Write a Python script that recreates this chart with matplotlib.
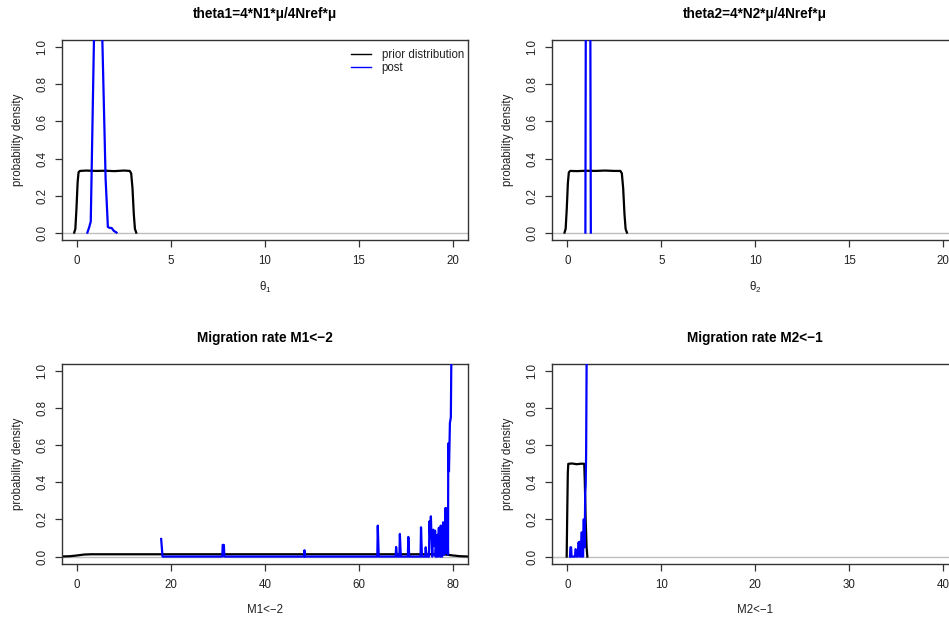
import matplotlib
matplotlib.use("Agg")
import matplotlib.pyplot as plt
from matplotlib.lines import Line2D

plt.rcParams['font.family'] = ['Liberation Sans', 'DejaVu Sans']
plt.rcParams['mathtext.fontset'] = 'custom'
plt.rcParams['mathtext.rm'] = 'Liberation Sans'
plt.rcParams['mathtext.it'] = 'Liberation Sans'
plt.rcParams['mathtext.bf'] = 'Liberation Sans:bold'

# ---- theta1: prior and posterior densities ----
theta1_prior_x = [-0.15, -0.09, -0.03, 0.03, 0.08, 0.15, 0.5, 1.0, 1.5, 2.0, 2.5, 2.8, 2.88, 2.95, 3.02, 3.08, 3.15]
theta1_prior_y = [0.0, 0.02, 0.13, 0.27, 0.325, 0.333, 0.335, 0.333, 0.334, 0.332, 0.335, 0.333, 0.32, 0.24, 0.1, 0.02, 0.0]
theta1_post_x = [0.55, 0.65, 0.73, 0.98, 1.15, 1.31, 1.52, 1.60, 1.64, 1.75, 1.84, 1.95, 2.1]
theta1_post_y = [0.0, 0.03, 0.06, 1.5, 2.1, 1.2, 0.29, 0.12, 0.03, 0.025, 0.025, 0.01, 0.0]

# ---- theta2: prior and posterior densities ----
theta2_prior_x = [-0.15, -0.09, -0.03, 0.03, 0.08, 0.15, 0.5, 1.0, 1.5, 2.0, 2.5, 2.82, 2.9, 2.97, 3.04, 3.1, 3.17]
theta2_prior_y = [0.0, 0.02, 0.13, 0.27, 0.325, 0.333, 0.332, 0.334, 0.333, 0.335, 0.333, 0.333, 0.32, 0.24, 0.1, 0.02, 0.0]
theta2_post_x = [0.96, 1.0, 1.1, 1.2, 1.25]
theta2_post_y = [0.0, 2.1, 4.0, 2.1, 0.0]

# ---- migration rate M1<-2 ----
m12_prior_x = [-3.2, -1.5, 0.0, 1.5, 3.0, 20.0, 40.0, 60.0, 77.0, 78.5, 80.0, 81.5, 83.2]
m12_prior_y = [0.0005, 0.002, 0.006, 0.011, 0.0125, 0.0125, 0.0125, 0.0125, 0.0125, 0.011, 0.006, 0.002, 0.0005]
m12_post_x = [17.9, 18.2, 30.9, 31.0, 31.25, 31.35, 48.3, 48.4, 48.5, 63.9, 64.0, 64.2,
              67.8, 67.9, 68.1, 68.6, 68.7, 68.9, 70.4, 70.5, 70.7, 73.1, 73.2, 73.4,
              74.1, 74.2, 74.4, 74.9, 75.0, 75.15, 75.3, 75.5, 75.6, 75.8, 76.0, 76.2,
              76.3, 76.4, 76.55, 76.7, 76.85, 77.0, 77.1, 77.25, 77.4, 77.55, 77.7, 77.9,
              78.1, 78.3, 78.4, 78.6, 78.8, 78.95, 79.0, 79.15, 79.35, 79.55, 79.9]
m12_post_y = [0.095, 0.0, 0.0, 0.063, 0.063, 0.0, 0.0, 0.034, 0.0, 0.0, 0.167, 0.0,
              0.0, 0.052, 0.0, 0.0, 0.122, 0.0, 0.0, 0.106, 0.0, 0.0, 0.158, 0.0,
              0.0, 0.05, 0.0, 0.0, 0.19, 0.1, 0.217, 0.05, 0.0, 0.145, 0.06, 0.14,
              0.0, 0.038, 0.0, 0.118, 0.0, 0.155, 0.02, 0.0, 0.167, 0.0, 0.0, 0.185,
              0.01, 0.02, 0.262, 0.02, 0.262, 0.01, 0.61, 0.46, 0.72, 0.75, 1.8]

# ---- migration rate M2<-1 ----
m21_prior_x = [-0.07, -0.02, 0.05, 0.1, 0.5, 1.0, 1.5, 1.8, 1.86, 1.95, 2.05, 2.13]
m21_prior_y = [0.0, 0.2, 0.45, 0.5, 0.502, 0.498, 0.501, 0.5, 0.4, 0.2, 0.05, 0.0]
m21_post_x = [0.28, 0.33, 0.4, 0.45, 0.82, 0.87, 0.95, 1.0, 1.12, 1.17, 1.25, 1.3, 1.35,
              1.45, 1.5, 1.58, 1.62, 1.68, 1.72, 1.8, 1.85, 1.9, 1.95, 2.0, 2.1]
m21_post_y = [0.0, 0.05, 0.05, 0.0, 0.0, 0.04, 0.035, 0.0, 0.0, 0.075, 0.07, 0.08, 0.0,
              0.0, 0.13, 0.13, 0.0, 0.0, 0.2, 0.2, 0.05, 0.35, 0.38, 0.56, 1.5]

titles = ["theta1=4*N1*\u03bc/4Nref*\u03bc", "theta2=4*N2*\u03bc/4Nref*\u03bc",
          "Migration rate M1<\u22122", "Migration rate M2<\u22121"]
xlabels = [r"$\theta_1$", r"$\theta_2$", "M1<\u22122", "M2<\u22121"]
xticks = [[0, 5, 10, 15, 20], [0, 5, 10, 15, 20], [0, 20, 40, 60, 80], [0, 10, 20, 30, 40]]
yticks = [0.0, 0.2, 0.4, 0.6, 0.8, 1.0]

W, H = 949, 622
fig = plt.figure(figsize=(W / 100, H / 100), dpi=100)

# axes boxes in pixels: left, top, right, bottom
boxes = [(62, 40, 468, 240), (552.3, 40, 958.3, 240),
         (62, 363.7, 468, 564), (552.3, 363.7, 958.3, 564)]

series = [(theta1_prior_x, theta1_prior_y, theta1_post_x, theta1_post_y),
          (theta2_prior_x, theta2_prior_y, theta2_post_x, theta2_post_y),
          (m12_prior_x, m12_prior_y, m12_post_x, m12_post_y),
          (m21_prior_x, m21_prior_y, m21_post_x, m21_post_y)]

fs_tick = 8.3
frame_col = '#333333'
text_col = '#222222'
for i in range(4):
    l, t, r, b = boxes[i]
    ax = fig.add_axes([l / W, 1 - b / H, (r - l) / W, (b - t) / H])
    px, py, qx, qy = series[i]
    ax.axhline(0, color='#bebebe', lw=1.0, zorder=1)
    ax.plot(px, py, color='black', lw=1.6, zorder=2)
    ax.plot(qx, qy, color='#0000ff', lw=1.6, zorder=3)
    lo, hi = xticks[i][0], xticks[i][-1]
    pad = 0.04 * (hi - lo)
    ax.set_xlim(lo - pad, hi + pad)
    ax.set_ylim(-0.04, 1.04)
    ax.set_xticks(xticks[i])
    ax.set_yticks(yticks)
    ax.set_yticklabels(["%.1f" % v for v in yticks], rotation=90, va='center')
    ax.tick_params(axis='both', length=5, width=0.9, color=frame_col,
                   labelsize=fs_tick, labelcolor=text_col)
    ax.tick_params(axis='x', pad=5.5)
    ax.tick_params(axis='y', pad=5.0)
    for s in ax.spines.values():
        s.set_color(frame_col)
        s.set_linewidth(1.0)
    ax.set_title(titles[i], fontsize=9.8, fontweight='bold', pad=15.5)
    ax.set_xlabel(xlabels[i], fontsize=fs_tick, labelpad=9.5, color=text_col)
    ax.set_ylabel("probability density", fontsize=fs_tick, labelpad=9, color=text_col)
    if i == 0:
        handles = [Line2D([], [], color='black', lw=1.0),
                   Line2D([], [], color='#0000ff', lw=1.0)]
        ax.legend(handles, ["prior distribution", "post"], loc='upper right',
                  bbox_to_anchor=(0.99, 0.955), frameon=False, fontsize=fs_tick,
                  handlelength=1.8, handletextpad=0.9, labelspacing=0.12,
                  borderpad=0, borderaxespad=0, labelcolor=text_col)

fig.savefig("out.png", dpi=100)
